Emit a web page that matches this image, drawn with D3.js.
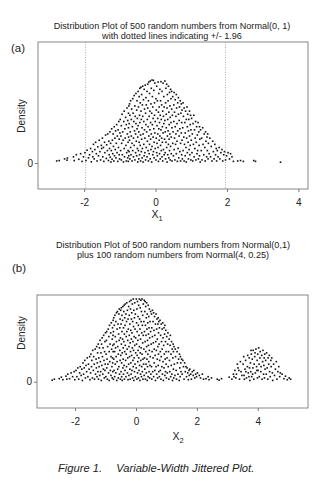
<!DOCTYPE html>
<html><head><meta charset="utf-8">
<script src="https://cdn.jsdelivr.net/npm/d3@7"></script>
<style>
body{margin:0;background:#fff}
svg{display:block;font-family:"Liberation Sans",Arial,Helvetica,sans-serif}
</style>
</head><body>
<svg id="chart" width="323" height="489"></svg>
<script>
// ---------- text ----------
const titleA = ["Distribution Plot of 500 random numbers from Normal(0, 1)", "with dotted lines indicating +/- 1.96"];
const titleB = ["Distribution Plot of 500 random numbers from Normal(0,1)", "plus 100 random numbers from Normal(4, 0.25)"];
const panelLabels = ["(a)", "(b)"];
const yLabel = "Density";
const xLabelA = ["X", "1"];
const xLabelB = ["X", "2"];
const caption = ["Figure 1.", "Variable-Width Jittered Plot."];

// ---------- ticks / reference lines ----------
const xTicksA = [-2, 0, 2, 4];
const xTicksB = [-2, 0, 2, 4];
const yTicks = [0];
const refLinesA = [-1.96, 1.96];

// ---------- panel (a): [value, jittered density height] ----------
const pointsA = [
[-2.77,0.010],[-2.70,0.012],[-2.55,0.020],[-2.48,0.014],[-2.47,0.024],[-2.30,0.030],[-2.28,0.012],
[-2.22,0.040],[-2.15,0.018],[-2.10,0.045],[-2.06,0.008],[-2.02,0.030],
[-1.98,0.050],[-1.95,0.012],[-1.92,0.062],[-1.88,0.025],[-1.85,0.040],[-1.82,0.070],[-1.80,0.006],[-1.77,0.055],[-1.76,0.030],
[-1.74,0.090],[-1.72,0.020],[-1.70,0.065],[-1.68,0.100],[-1.66,0.045],[-1.64,0.010],[-1.62,0.078],[-1.60,0.035],[-1.58,0.110],[-1.56,0.055],[-1.54,0.015],[-1.52,0.085],[-1.51,0.070],
[-1.49,0.120],[-1.48,0.030],[-1.46,0.075],[-1.45,0.008],[-1.43,0.100],[-1.42,0.050],[-1.40,0.135],[-1.38,0.022],[-1.37,0.088],[-1.35,0.060],[-1.34,0.140],[-1.32,0.012],[-1.31,0.105],[-1.30,0.040],[-1.29,0.070],[-1.28,0.150],[-1.27,0.028],[-1.26,0.095],[-1.25,0.005],
[-1.24,0.060],[-1.23,0.165],[-1.22,0.018],[-1.21,0.110],[-1.20,0.045],[-1.19,0.140],[-1.18,0.080],[-1.17,0.010],[-1.16,0.175],[-1.15,0.035],[-1.14,0.120],[-1.13,0.065],[-1.12,0.155],[-1.11,0.025],[-1.10,0.095],[-1.09,0.185],[-1.08,0.050],[-1.07,0.130],[-1.06,0.008],[-1.05,0.160],[-1.04,0.075],[-1.03,0.200],[-1.02,0.040],[-1.02,0.115],[-1.01,0.020],[-1.00,0.145],
[-0.99,0.210],[-0.98,0.060],[-0.97,0.130],[-0.96,0.015],[-0.96,0.180],[-0.95,0.095],[-0.94,0.235],[-0.93,0.040],[-0.92,0.150],[-0.91,0.110],[-0.90,0.005],[-0.89,0.200],[-0.88,0.070],[-0.88,0.250],[-0.87,0.030],[-0.86,0.165],[-0.85,0.120],[-0.84,0.220],[-0.83,0.085],[-0.82,0.010],[-0.82,0.185],[-0.81,0.050],[-0.80,0.265],[-0.79,0.140],[-0.78,0.025],[-0.78,0.205],[-0.77,0.100],[-0.77,0.060],[-0.76,0.240],[-0.76,0.170],[-0.75,0.035],[-0.75,0.275],[-0.755,0.125],[-0.765,0.008],
[-0.74,0.190],[-0.74,0.055],[-0.73,0.285],[-0.73,0.110],[-0.72,0.020],[-0.72,0.230],[-0.71,0.150],[-0.70,0.075],[-0.70,0.300],[-0.69,0.040],[-0.68,0.210],[-0.68,0.130],[-0.67,0.260],[-0.66,0.010],[-0.66,0.095],[-0.65,0.175],[-0.64,0.310],[-0.64,0.060],[-0.63,0.240],[-0.62,0.120],[-0.62,0.030],[-0.61,0.200],[-0.60,0.325],[-0.60,0.085],[-0.59,0.155],[-0.58,0.275],[-0.58,0.015],[-0.57,0.225],[-0.56,0.050],[-0.56,0.140],[-0.55,0.335],[-0.55,0.190],[-0.54,0.105],[-0.53,0.255],[-0.53,0.035],[-0.52,0.165],[-0.52,0.300],[-0.51,0.070],[-0.51,0.215],[-0.50,0.005],[-0.50,0.125],
[-0.49,0.345],[-0.49,0.180],[-0.48,0.060],[-0.48,0.270],[-0.47,0.020],[-0.47,0.150],[-0.46,0.320],[-0.46,0.100],[-0.45,0.230],[-0.45,0.040],[-0.44,0.360],[-0.44,0.195],[-0.43,0.085],[-0.43,0.290],[-0.42,0.010],[-0.42,0.135],[-0.41,0.250],[-0.41,0.365],[-0.40,0.055],[-0.40,0.210],[-0.39,0.115],[-0.39,0.330],[-0.38,0.025],[-0.38,0.170],[-0.37,0.280],[-0.37,0.070],[-0.36,0.370],[-0.36,0.225],[-0.35,0.140],[-0.35,0.005],[-0.34,0.305],[-0.33,0.090],[-0.33,0.200],[-0.32,0.035],[-0.32,0.355],[-0.31,0.260],[-0.31,0.160],[-0.30,0.050],[-0.30,0.120],[-0.29,0.375],[-0.28,0.240],[-0.28,0.015],[-0.27,0.185],[-0.27,0.315],[-0.26,0.075],[-0.26,0.280],
[-0.25,0.150],[-0.24,0.345],[-0.24,0.030],[-0.23,0.210],[-0.23,0.105],[-0.22,0.380],[-0.22,0.265],[-0.21,0.060],[-0.21,0.175],[-0.20,0.010],[-0.20,0.300],[-0.19,0.130],[-0.19,0.390],[-0.18,0.225],[-0.18,0.045],[-0.17,0.335],[-0.17,0.090],[-0.16,0.250],[-0.16,0.160],[-0.15,0.020],[-0.15,0.395],[-0.14,0.195],[-0.14,0.115],[-0.13,0.285],[-0.13,0.065],[-0.12,0.360],[-0.12,0.140],[-0.11,0.005],[-0.11,0.240],[-0.10,0.400],[-0.10,0.080],[-0.09,0.185],[-0.09,0.320],[-0.08,0.040],[-0.08,0.270],[-0.07,0.125],[-0.07,0.215],[-0.06,0.398],[-0.06,0.055],[-0.05,0.350],[-0.05,0.165],[-0.04,0.100],[-0.04,0.025],[-0.03,0.290],[-0.03,0.230],[-0.02,0.145],[-0.02,0.385],[-0.01,0.070],[-0.01,0.200],
[0.01,0.310],[0.01,0.015],[0.02,0.120],[0.02,0.255],[0.03,0.050],[0.03,0.370],[0.04,0.180],[0.04,0.095],[0.05,0.300],[0.05,0.035],[0.06,0.215],[0.06,0.140],[0.07,0.390],[0.07,0.075],[0.08,0.245],[0.08,0.008],[0.09,0.165],[0.09,0.335],[0.10,0.110],[0.10,0.270],[0.11,0.045],[0.11,0.195],[0.12,0.355],[0.12,0.130],[0.13,0.020],[0.13,0.230],[0.14,0.085],[0.14,0.300],[0.15,0.160],[0.15,0.392],[0.16,0.060],[0.16,0.210],[0.17,0.120],[0.17,0.280],[0.18,0.030],[0.18,0.345],[0.19,0.175],[0.19,0.100],[0.20,0.250],[0.20,0.010],[0.21,0.385],[0.21,0.145],[0.22,0.065],[0.22,0.225],[0.23,0.320],[0.23,0.190],[0.24,0.040],[0.24,0.270],[0.25,0.115],
[0.26,0.395],[0.26,0.205],[0.27,0.050],[0.27,0.150],[0.28,0.290],[0.28,0.020],[0.29,0.360],[0.29,0.100],[0.30,0.235],[0.30,0.170],[0.31,0.380],[0.31,0.075],[0.32,0.265],[0.32,0.005],[0.33,0.130],[0.33,0.330],[0.34,0.210],[0.34,0.040],[0.35,0.300],[0.35,0.155],[0.36,0.090],[0.36,0.370],[0.37,0.245],[0.37,0.025],[0.38,0.185],[0.38,0.115],[0.39,0.340],[0.39,0.060],[0.40,0.275],[0.40,0.140],[0.41,0.015],[0.41,0.220],[0.42,0.355],[0.42,0.080],[0.43,0.195],[0.43,0.310],[0.44,0.045],[0.44,0.125],[0.45,0.260],[0.45,0.345],[0.46,0.170],[0.46,0.010],[0.47,0.230],[0.48,0.095],[0.48,0.320],[0.49,0.150],
[0.50,0.035],[0.51,0.280],[0.51,0.200],[0.52,0.065],[0.52,0.340],[0.53,0.120],[0.53,0.245],[0.54,0.015],[0.55,0.175],[0.55,0.305],[0.56,0.090],[0.57,0.225],[0.57,0.140],[0.58,0.045],[0.58,0.330],[0.59,0.265],[0.60,0.105],[0.60,0.190],[0.61,0.008],[0.62,0.290],[0.62,0.155],[0.63,0.070],[0.64,0.235],[0.64,0.315],[0.65,0.025],[0.66,0.130],[0.66,0.205],[0.67,0.270],[0.68,0.055],[0.68,0.165],[0.69,0.300],[0.70,0.095],[0.70,0.010],[0.71,0.240],[0.72,0.145],[0.72,0.285],[0.73,0.040],[0.73,0.195],[0.74,0.110],[0.74,0.255],[0.75,0.020],
[0.76,0.170],[0.77,0.290],[0.77,0.060],[0.78,0.225],[0.79,0.125],[0.80,0.010],[0.80,0.265],[0.81,0.090],[0.82,0.195],[0.83,0.035],[0.83,0.145],[0.84,0.250],[0.85,0.075],[0.86,0.210],[0.86,0.005],[0.87,0.120],[0.88,0.270],[0.89,0.050],[0.89,0.175],[0.90,0.235],[0.91,0.100],[0.92,0.020],[0.92,0.155],[0.93,0.210],[0.94,0.065],[0.95,0.250],[0.95,0.130],[0.96,0.040],[0.97,0.185],[0.97,0.085],[0.98,0.230],[0.99,0.015],[0.99,0.160],[1.00,0.110],
[1.01,0.215],[1.02,0.050],[1.03,0.140],[1.04,0.010],[1.05,0.190],[1.06,0.090],[1.07,0.230],[1.08,0.030],[1.09,0.160],[1.10,0.070],[1.11,0.120],[1.12,0.200],[1.13,0.015],[1.14,0.100],[1.15,0.175],[1.16,0.045],[1.17,0.135],[1.18,0.060],[1.19,0.195],[1.20,0.020],[1.21,0.150],[1.22,0.085],[1.23,0.175],[1.23,0.035],[1.24,0.115],[1.25,0.005],
[1.26,0.160],[1.28,0.060],[1.29,0.120],[1.30,0.015],[1.32,0.170],[1.33,0.090],[1.35,0.040],[1.36,0.140],[1.38,0.075],[1.39,0.010],[1.40,0.150],[1.41,0.105],[1.43,0.030],[1.44,0.125],[1.45,0.060],[1.46,0.140],[1.47,0.020],[1.48,0.095],[1.50,0.045],
[1.52,0.120],[1.54,0.030],[1.56,0.080],[1.58,0.010],[1.60,0.105],[1.62,0.055],[1.64,0.020],[1.66,0.090],[1.68,0.040],[1.70,0.070],[1.71,0.010],[1.73,0.060],[1.75,0.030],
[1.78,0.075],[1.80,0.020],[1.83,0.050],[1.86,0.065],[1.88,0.010],[1.91,0.040],[1.93,0.055],[1.96,0.015],[1.99,0.035],
[2.03,0.050],[2.07,0.020],[2.10,0.045],[2.14,0.030],[2.18,0.008],
[2.30,0.010],[2.38,0.012],[2.46,0.008],[2.75,0.012],[2.80,0.008],[3.50,0.004]
];

// ---------- panel (b): [value, jittered density height] ----------
const pointsB = [
[-2.75,0.006],[-2.68,0.010],[-2.52,0.012],[-2.45,0.018],[-2.40,0.008],[-2.30,0.022],[-2.27,0.010],
[-2.24,0.030],[-2.18,0.012],[-2.13,0.035],[-2.08,0.020],[-2.03,0.040],[-2.01,0.008],
[-1.97,0.045],[-1.94,0.020],[-1.91,0.055],[-1.88,0.010],[-1.85,0.035],[-1.83,0.060],[-1.80,0.025],[-1.78,0.050],[-1.76,0.005],
[-1.74,0.075],[-1.72,0.030],[-1.70,0.055],[-1.68,0.085],[-1.66,0.015],[-1.64,0.065],[-1.62,0.040],[-1.60,0.095],[-1.58,0.020],[-1.56,0.070],[-1.54,0.050],[-1.52,0.100],[-1.51,0.008],
[-1.49,0.035],[-1.48,0.110],[-1.46,0.060],[-1.45,0.085],[-1.43,0.015],[-1.42,0.125],[-1.40,0.045],[-1.39,0.100],[-1.37,0.070],[-1.36,0.010],[-1.34,0.130],[-1.33,0.030],[-1.31,0.090],[-1.30,0.055],[-1.29,0.140],[-1.28,0.020],[-1.27,0.075],[-1.26,0.115],[-1.25,0.040],
[-1.24,0.150],[-1.23,0.010],[-1.22,0.095],[-1.21,0.060],[-1.20,0.135],[-1.19,0.025],[-1.18,0.165],[-1.17,0.080],[-1.16,0.040],[-1.15,0.115],[-1.14,0.005],[-1.13,0.150],[-1.12,0.065],[-1.11,0.175],[-1.10,0.100],[-1.09,0.030],[-1.08,0.135],[-1.07,0.050],[-1.06,0.185],[-1.05,0.085],[-1.04,0.015],[-1.03,0.120],[-1.02,0.160],[-1.02,0.045],[-1.01,0.070],[-1.00,0.195],
[-0.99,0.020],[-0.98,0.110],[-0.97,0.165],[-0.96,0.055],[-0.96,0.200],[-0.95,0.090],[-0.94,0.010],[-0.93,0.140],[-0.92,0.070],[-0.91,0.210],[-0.90,0.035],[-0.89,0.180],[-0.88,0.120],[-0.88,0.005],[-0.87,0.225],[-0.86,0.080],[-0.85,0.150],[-0.84,0.045],[-0.83,0.195],[-0.82,0.100],[-0.82,0.025],[-0.81,0.235],[-0.80,0.130],[-0.79,0.060],[-0.78,0.170],[-0.78,0.015],[-0.77,0.215],[-0.77,0.095],[-0.76,0.145],[-0.76,0.040],[-0.75,0.245],[-0.755,0.185],[-0.765,0.075],[-0.75,0.120],
[-0.74,0.010],[-0.74,0.200],[-0.73,0.090],[-0.73,0.255],[-0.72,0.150],[-0.72,0.045],[-0.71,0.225],[-0.70,0.120],[-0.70,0.020],[-0.69,0.265],[-0.68,0.070],[-0.68,0.180],[-0.67,0.135],[-0.66,0.240],[-0.66,0.035],[-0.65,0.100],[-0.64,0.275],[-0.64,0.160],[-0.63,0.005],[-0.62,0.210],[-0.62,0.080],[-0.61,0.280],[-0.60,0.140],[-0.60,0.050],[-0.59,0.230],[-0.58,0.110],[-0.58,0.015],[-0.57,0.190],[-0.56,0.270],[-0.56,0.060],[-0.55,0.165],[-0.55,0.290],[-0.54,0.030],[-0.53,0.215],[-0.53,0.125],[-0.52,0.250],[-0.52,0.085],[-0.51,0.010],[-0.51,0.175],[-0.50,0.285],[-0.50,0.105],
[-0.49,0.040],[-0.49,0.230],[-0.48,0.150],[-0.48,0.295],[-0.47,0.075],[-0.47,0.020],[-0.46,0.200],[-0.46,0.265],[-0.45,0.115],[-0.45,0.005],[-0.44,0.245],[-0.44,0.170],[-0.43,0.055],[-0.43,0.300],[-0.42,0.135],[-0.42,0.090],[-0.41,0.215],[-0.41,0.030],[-0.40,0.280],[-0.40,0.160],[-0.39,0.065],[-0.39,0.305],[-0.38,0.190],[-0.38,0.010],[-0.37,0.120],[-0.37,0.255],[-0.36,0.045],[-0.36,0.225],[-0.35,0.145],[-0.35,0.310],[-0.34,0.085],[-0.33,0.270],[-0.33,0.020],[-0.32,0.180],[-0.32,0.110],[-0.31,0.240],[-0.31,0.060],[-0.30,0.315],[-0.30,0.200],[-0.29,0.130],[-0.28,0.035],[-0.28,0.285],[-0.27,0.165],[-0.27,0.095],[-0.26,0.250],[-0.26,0.008],
[-0.25,0.210],[-0.24,0.070],[-0.24,0.300],[-0.23,0.140],[-0.23,0.025],[-0.22,0.265],[-0.22,0.185],[-0.21,0.100],[-0.21,0.320],[-0.20,0.050],[-0.20,0.230],[-0.19,0.155],[-0.19,0.010],[-0.18,0.290],[-0.18,0.120],[-0.17,0.205],[-0.17,0.075],[-0.16,0.325],[-0.16,0.030],[-0.15,0.250],[-0.15,0.170],[-0.14,0.105],[-0.14,0.275],[-0.13,0.045],[-0.13,0.195],[-0.12,0.135],[-0.12,0.310],[-0.11,0.015],[-0.11,0.240],[-0.10,0.085],[-0.10,0.160],[-0.09,0.330],[-0.09,0.060],[-0.08,0.220],[-0.08,0.125],[-0.07,0.285],[-0.07,0.005],[-0.06,0.180],[-0.06,0.095],[-0.05,0.255],[-0.05,0.040],[-0.04,0.315],[-0.04,0.145],[-0.03,0.210],[-0.03,0.070],[-0.02,0.270],[-0.02,0.020],[-0.01,0.175],[-0.01,0.115],
[0.01,0.330],[0.01,0.055],[0.02,0.235],[0.02,0.150],[0.03,0.010],[0.03,0.290],[0.04,0.105],[0.04,0.200],[0.05,0.035],[0.05,0.320],[0.06,0.165],[0.06,0.080],[0.07,0.260],[0.07,0.125],[0.08,0.015],[0.08,0.225],[0.09,0.305],[0.09,0.095],[0.10,0.185],[0.10,0.045],[0.11,0.330],[0.11,0.140],[0.12,0.250],[0.12,0.065],[0.13,0.005],[0.13,0.210],[0.14,0.115],[0.14,0.295],[0.15,0.170],[0.15,0.030],[0.16,0.325],[0.16,0.085],[0.17,0.240],[0.17,0.135],[0.18,0.020],[0.18,0.280],[0.19,0.195],[0.19,0.060],[0.20,0.110],[0.20,0.330],[0.21,0.225],[0.21,0.040],[0.22,0.155],[0.22,0.265],[0.23,0.090],[0.23,0.010],[0.24,0.310],[0.24,0.185],[0.25,0.070],
[0.26,0.240],[0.26,0.130],[0.27,0.325],[0.27,0.025],[0.28,0.200],[0.28,0.095],[0.29,0.280],[0.29,0.050],[0.30,0.160],[0.30,0.320],[0.31,0.010],[0.31,0.225],[0.32,0.120],[0.32,0.300],[0.33,0.070],[0.33,0.185],[0.34,0.255],[0.34,0.035],[0.35,0.140],[0.35,0.315],[0.36,0.090],[0.36,0.210],[0.37,0.005],[0.37,0.270],[0.38,0.165],[0.38,0.060],[0.39,0.235],[0.39,0.110],[0.40,0.305],[0.40,0.020],[0.41,0.190],[0.41,0.145],[0.42,0.080],[0.42,0.260],[0.43,0.040],[0.43,0.215],[0.44,0.290],[0.44,0.125],[0.45,0.015],[0.45,0.175],[0.46,0.240],[0.46,0.065],[0.47,0.100],[0.48,0.280],[0.48,0.200],[0.49,0.030],
[0.50,0.150],[0.51,0.270],[0.51,0.060],[0.52,0.215],[0.52,0.010],[0.53,0.120],[0.54,0.285],[0.54,0.180],[0.55,0.040],[0.56,0.095],[0.56,0.240],[0.57,0.155],[0.58,0.020],[0.58,0.275],[0.59,0.205],[0.60,0.075],[0.60,0.130],[0.61,0.260],[0.62,0.045],[0.62,0.185],[0.63,0.105],[0.64,0.230],[0.64,0.005],[0.65,0.160],[0.66,0.270],[0.66,0.060],[0.67,0.125],[0.68,0.210],[0.68,0.030],[0.69,0.250],[0.70,0.090],[0.70,0.170],[0.71,0.015],[0.72,0.230],[0.72,0.140],[0.73,0.065],[0.73,0.255],[0.74,0.110],[0.74,0.195],[0.75,0.040],[0.75,0.240],
[0.76,0.150],[0.77,0.020],[0.77,0.215],[0.78,0.085],[0.79,0.245],[0.80,0.120],[0.80,0.045],[0.81,0.185],[0.82,0.010],[0.83,0.230],[0.83,0.100],[0.84,0.160],[0.85,0.060],[0.86,0.210],[0.86,0.130],[0.87,0.030],[0.88,0.235],[0.89,0.080],[0.89,0.175],[0.90,0.005],[0.91,0.145],[0.92,0.215],[0.92,0.055],[0.93,0.110],[0.94,0.190],[0.95,0.025],[0.95,0.225],[0.96,0.090],[0.97,0.160],[0.97,0.040],[0.98,0.205],[0.99,0.120],[0.99,0.070],[1.00,0.015],
[1.01,0.180],[1.02,0.095],[1.03,0.035],[1.04,0.150],[1.05,0.195],[1.06,0.060],[1.07,0.120],[1.08,0.010],[1.09,0.170],[1.10,0.085],[1.11,0.040],[1.12,0.145],[1.13,0.185],[1.14,0.020],[1.15,0.110],[1.16,0.065],[1.17,0.160],[1.18,0.030],[1.19,0.130],[1.20,0.005],[1.21,0.095],[1.22,0.150],[1.23,0.050],[1.23,0.120],[1.24,0.015],[1.25,0.140],
[1.26,0.070],[1.28,0.025],[1.29,0.130],[1.30,0.100],[1.32,0.045],[1.33,0.010],[1.35,0.120],[1.36,0.075],[1.38,0.030],[1.39,0.135],[1.40,0.090],[1.42,0.005],[1.43,0.110],[1.44,0.055],[1.45,0.020],[1.46,0.100],[1.47,0.075],[1.48,0.040],[1.50,0.090],
[1.52,0.030],[1.54,0.085],[1.56,0.060],[1.58,0.010],[1.60,0.075],[1.62,0.040],[1.64,0.060],[1.66,0.020],[1.68,0.055],[1.70,0.035],[1.72,0.008],[1.74,0.045],[1.75,0.025],
[1.77,0.050],[1.80,0.030],[1.82,0.010],[1.85,0.040],[1.88,0.025],[1.90,0.045],[1.93,0.015],[1.96,0.030],[1.99,0.020],
[2.02,0.035],[2.08,0.025],[2.12,0.015],[2.18,0.030],[2.22,0.010],
[2.30,0.012],[2.37,0.020],[2.40,0.008],[2.48,0.015],[2.67,0.010],[2.73,0.006],[2.81,0.012],[3.06,0.018],
[3.15,0.010],[3.20,0.030],[3.22,0.020],[3.25,0.045],
[3.28,0.015],[3.30,0.030],[3.33,0.070],[3.35,0.055],[3.38,0.045],[3.40,0.010],[3.43,0.080],[3.45,0.040],[3.48,0.025],
[3.52,0.070],[3.54,0.100],[3.55,0.025],[3.56,0.010],[3.58,0.050],[3.60,0.085],[3.61,0.040],[3.63,0.015],[3.66,0.060],[3.67,0.105],[3.69,0.035],[3.71,0.020],[3.72,0.095],[3.73,0.055],[3.74,0.005],
[3.76,0.075],[3.77,0.040],[3.78,0.125],[3.79,0.110],[3.80,0.020],[3.82,0.090],[3.83,0.030],[3.84,0.055],[3.85,0.125],[3.87,0.010],[3.88,0.070],[3.90,0.100],[3.91,0.115],[3.92,0.035],[3.94,0.130],[3.96,0.060],[3.97,0.045],[3.98,0.085],[3.99,0.015],
[4.00,0.110],[4.01,0.045],[4.03,0.135],[4.04,0.070],[4.05,0.020],[4.07,0.095],[4.08,0.120],[4.10,0.040],[4.11,0.060],[4.13,0.105],[4.14,0.010],[4.16,0.080],[4.17,0.125],[4.19,0.030],[4.20,0.065],[4.21,0.095],[4.22,0.015],[4.23,0.110],[4.24,0.050],
[4.26,0.085],[4.28,0.030],[4.29,0.115],[4.31,0.055],[4.33,0.010],[4.34,0.095],[4.36,0.070],[4.38,0.105],[4.39,0.040],[4.41,0.020],[4.43,0.085],[4.44,0.060],[4.46,0.095],[4.48,0.035],[4.49,0.005],
[4.52,0.070],[4.55,0.025],[4.58,0.050],[4.61,0.080],[4.63,0.010],[4.66,0.040],[4.69,0.060],[4.72,0.020],[4.74,0.035],
[4.80,0.030],[4.86,0.012],[4.91,0.022],[4.97,0.008],[5.03,0.015],[5.08,0.010]
];

// ---------- drawing ----------
const svg = d3.select("#chart");
const ink = "#222";
const frame = "#7a7a7a";

function drawPanel(o) {
  const g = svg.append("g");
  const x = d3.scaleLinear().domain(o.xDomain).range([o.left, o.right]);
  const y = d3.scaleLinear().domain(o.yDomain).range([o.bottom, o.top]);

  // titles
  o.title.forEach((t, i) => {
    g.append("text")
      .attr("x", o.titleX).attr("y", o.titleY + i * 10.4)
      .attr("text-anchor", "middle").attr("font-size", 9.1).attr("fill", ink)
      .text(t);
  });

  // panel label
  g.append("text").attr("x", o.labelX).attr("y", o.labelY)
    .attr("font-size", 11.5).attr("fill", ink).text(o.label);

  // frame
  g.append("rect").attr("x", o.left).attr("y", o.top)
    .attr("width", o.right - o.left).attr("height", o.bottom - o.top)
    .attr("fill", "none").attr("stroke", frame).attr("stroke-width", 0.9);

  // reference lines
  g.selectAll("line.ref").data(o.refs).join("line")
    .attr("class", "ref")
    .attr("x1", d => x(d)).attr("x2", d => x(d))
    .attr("y1", o.top).attr("y2", o.bottom)
    .attr("stroke", "#9a9a9a").attr("stroke-width", 0.8).attr("stroke-dasharray", "1,1.5");

  // x axis
  const xa = g.append("g").attr("transform", `translate(0,${o.bottom})`)
    .call(d3.axisBottom(x).tickValues(o.xTicks).tickSize(3).tickPadding(7).tickFormat(d => String(d)));
  xa.select(".domain").remove();
  xa.selectAll(".tick line").attr("stroke", frame);
  xa.selectAll(".tick text").attr("font-size", 10).attr("fill", ink).attr("font-family", null);

  // y axis
  const ya = g.append("g").attr("transform", `translate(${o.left},0)`)
    .call(d3.axisLeft(y).tickValues(yTicks).tickSize(3).tickPadding(2).tickFormat(d => String(d)));
  ya.select(".domain").remove();
  ya.selectAll(".tick line").attr("stroke", frame);
  ya.selectAll(".tick text").attr("font-size", 10).attr("fill", ink).attr("font-family", null);

  // y label
  g.append("text")
    .attr("transform", `translate(${o.yLabelX},${o.yLabelY}) rotate(-90)`)
    .attr("text-anchor", "middle").attr("font-size", 10).attr("fill", ink).text(yLabel);

  // x label with subscript
  const xl = g.append("text").attr("x", o.xLabelX).attr("y", o.xLabelY)
    .attr("text-anchor", "middle").attr("font-size", 10.5).attr("fill", ink);
  xl.append("tspan").text(o.xLabel[0]);
  xl.append("tspan").attr("font-size", 7.5).attr("dy", 3).text(o.xLabel[1]);

  // jittered points
  g.append("g").selectAll("rect").data(o.points).join("rect")
    .attr("x", d => x(d[0]) - 0.8).attr("y", d => y(d[1]) - 0.8)
    .attr("width", 1.6).attr("height", 1.6).attr("fill", "#111");
}

drawPanel({
  title: titleA, titleX: 172, titleY: 29, label: panelLabels[0], labelX: 11, labelY: 52,
  left: 38, right: 308, top: 42, bottom: 189,
  xDomain: [-3.294, 4.27], yDomain: [-0.125, 0.583],
  xTicks: xTicksA, refs: refLinesA, points: pointsA,
  yLabelX: 25, yLabelY: 116, xLabelX: 157, xLabelY: 218, xLabel: xLabelA
});

drawPanel({
  title: titleB, titleX: 173, titleY: 248, label: panelLabels[1], labelX: 12, labelY: 272,
  left: 37, right: 308, top: 295, bottom: 408,
  xDomain: [-3.25, 5.65], yDomain: [-0.105, 0.346],
  xTicks: xTicksB, refs: [], points: pointsB,
  yLabelX: 25, yLabelY: 333, xLabelX: 178, xLabelY: 440, xLabel: xLabelB
});

// caption
const cap = svg.append("text").attr("x", 58).attr("y", 472)
  .attr("font-size", 11.2).attr("font-style", "italic").attr("fill", ink);
cap.append("tspan").text(caption[0]);
cap.append("tspan").attr("dx", 14).text(caption[1]);
</script>
</body></html>
